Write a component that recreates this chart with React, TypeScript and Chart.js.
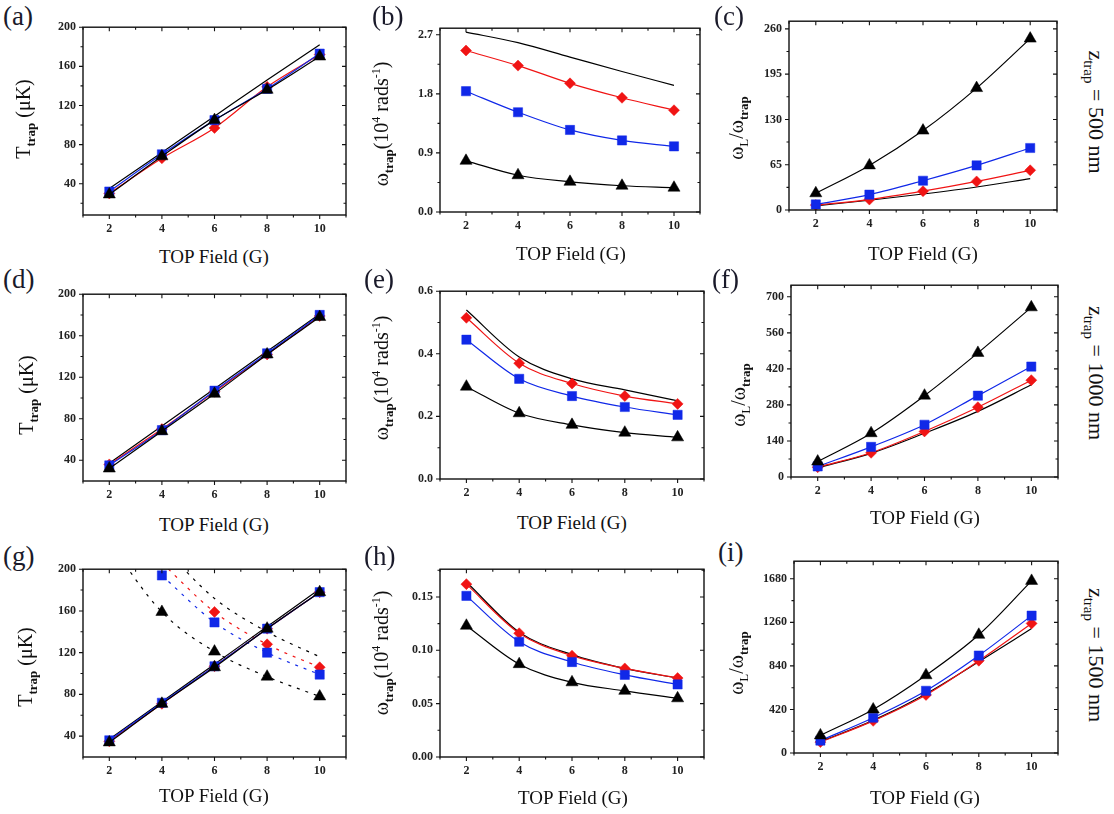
import React, { useEffect, useRef } from 'react';
import { Chart, registerables } from 'chart.js';

Chart.register(...registerables);

// ---------- data ----------
const FIELD = [2, 4, 6, 8, 10];

// (a) T_trap, z = 500 nm
const A_TRI = [29, 68, 105, 136, 170];
const A_SQ = [32, 70, 105, 137, 173];
const A_DIA = [30, 66, 97, 139, 172];
const A_LINE = [35, 72, 109, 146, 182];
// (b) omega_trap, z = 500 nm
const B_TRI = [0.78, 0.56, 0.46, 0.40, 0.37];
const B_SQ = [1.84, 1.52, 1.25, 1.09, 1.0];
const B_DIA = [2.46, 2.23, 1.96, 1.74, 1.55];
const B_LINE = [2.74, 2.58, 2.36, 2.14, 1.93];
// (c) omega_L / omega_trap, z = 500 nm
const C_TRI = [24, 64, 114, 175, 246];
const C_SQ = [8, 22, 42, 64, 89];
const C_DIA = [7, 15, 27, 41, 57];
const C_LINE = [6, 14, 23, 33, 45];
// (d) T_trap, z = 1000 nm
const D_TRI = [32, 68, 104, 142, 178];
const D_SQ = [35, 69, 107, 143, 180];
const D_DIA = [36, 70, 106, 142, 179];
const D_LINE = [37, 73, 109, 145, 181];
// (e) omega_trap, z = 1000 nm
const E_TRI = [0.295, 0.21, 0.173, 0.148, 0.133];
const E_SQ = [0.445, 0.32, 0.265, 0.23, 0.205];
const E_DIA = [0.515, 0.37, 0.305, 0.265, 0.24];
const E_LINE = [0.54, 0.39, 0.32, 0.285, 0.25];
// (f) omega_L / omega_trap, z = 1000 nm
const F_TRI = [60, 170, 316, 482, 659];
const F_SQ = [41, 117, 203, 316, 429];
const F_DIA = [38, 94, 177, 271, 376];
const F_LINE = [36, 92, 170, 255, 358];
// (g) T_trap, z = 1500 nm (solid: rising, dashed: falling)
const G_TRI = [34, 71, 106, 143, 178];
const G_SQ = [36, 72, 107, 143, 178];
const G_DIA = [35, 71, 107, 143, 178];
const G_LINE = [37, 73, 109, 145, 181];
const G_TRI_D = [225, 159, 121, 97, 78];
const G_SQ_D = [null, 194, 149, 120, 99];
const G_DIA_D = [null, 206, 159, 128, 106];
const G_LINE_D = [null, 222, 172, 140, 116];
// (h) omega_trap, z = 1500 nm
const H_TRI = [0.123, 0.087, 0.07, 0.062, 0.055];
const H_SQ = [0.151, 0.108, 0.089, 0.077, 0.068];
const H_DIA = [0.162, 0.116, 0.095, 0.083, 0.074];
const H_LINE = [0.164, 0.117, 0.096, 0.083, 0.074];
// (i) omega_L / omega_trap, z = 1500 nm
const I_TRI = [170, 420, 750, 1140, 1660];
const I_SQ = [120, 340, 600, 940, 1325];
const I_DIA = [105, 310, 560, 890, 1250];
const I_LINE = [110, 315, 570, 880, 1200];

// tick labels
const X_TICKS = [2, 4, 6, 8, 10];
const T_TICKS = [40, 80, 120, 160, 200];
const B_TICKS = [0, 0.9, 1.8, 2.7];
const C_TICKS = [0, 65, 130, 195, 260];
const E_TICKS = [0, 0.2, 0.4, 0.6];
const F_TICKS = [0, 140, 280, 420, 560, 700];
const H_TICKS = [0, 0.05, 0.1, 0.15];
const I_TICKS = [0, 420, 840, 1260, 1680];

// ---------- styling ----------
const SERIF = '"Liberation Serif", "DejaVu Serif", serif';
type Kind = 'tri' | 'sq' | 'dia' | 'line';
const STY: Record<Kind, { color: string; ps: any; r: number }> = {
  tri: { color: '#000000', ps: 'triangle', r: 7 },
  sq: { color: '#1028e8', ps: 'rect', r: 6.5 },
  dia: { color: '#f01414', ps: 'rectRot', r: 5.5 },
  line: { color: '#000000', ps: 'circle', r: 0 },
};

type Series = { data: (number | null)[]; kind: Kind; dashed?: boolean };
type PanelCfg = {
  box: [number, number, number, number]; // L, R, T, B of plot area
  yMin: number;
  yMax: number;
  yTicks: number[];
  dec: number;
  series: Series[];
};

const set4 = (tri: any, sq: any, dia: any, line: any): Series[] => [
  { data: tri, kind: 'tri' },
  { data: sq, kind: 'sq' },
  { data: dia, kind: 'dia' },
  { data: line, kind: 'line' },
];

const PANELS: PanelCfg[] = [
  { box: [83, 346, 21, 215], yMin: 8, yMax: 200, yTicks: T_TICKS, dec: 0, series: set4(A_TRI, A_SQ, A_DIA, A_LINE) },
  { box: [440, 700, 22, 212], yMin: 0, yMax: 2.8, yTicks: B_TICKS, dec: 1, series: set4(B_TRI, B_SQ, B_DIA, B_LINE) },
  { box: [789, 1057, 15, 210], yMin: 0, yMax: 271, yTicks: C_TICKS, dec: 0, series: set4(C_TRI, C_SQ, C_DIA, C_LINE) },
  { box: [83, 346, 288, 481], yMin: 20, yMax: 200, yTicks: T_TICKS, dec: 0, series: set4(D_TRI, D_SQ, D_DIA, D_LINE) },
  { box: [440, 704, 285, 479], yMin: 0, yMax: 0.6, yTicks: E_TICKS, dec: 1, series: set4(E_TRI, E_SQ, E_DIA, E_LINE) },
  { box: [791, 1058, 279, 477], yMin: 0, yMax: 745, yTicks: F_TICKS, dec: 0, series: set4(F_TRI, F_SQ, F_DIA, F_LINE) },
  {
    box: [83, 346, 563, 757], yMin: 20, yMax: 200, yTicks: T_TICKS, dec: 0,
    series: [
      ...set4(G_TRI, G_SQ, G_DIA, G_LINE),
      { data: G_TRI_D, kind: 'tri', dashed: true },
      { data: G_SQ_D, kind: 'sq', dashed: true },
      { data: G_DIA_D, kind: 'dia', dashed: true },
      { data: G_LINE_D, kind: 'line', dashed: true },
    ],
  },
  { box: [440, 704, 563, 757], yMin: 0, yMax: 0.176, yTicks: H_TICKS, dec: 2, series: set4(H_TRI, H_SQ, H_DIA, H_LINE) },
  { box: [794, 1058, 555, 753], yMin: 0, yMax: 1850, yTicks: I_TICKS, dec: 0, series: set4(I_TRI, I_SQ, I_DIA, I_LINE) },
];

const YW = 46;
const XH = 30;
const PT = 8;
const PR = 8;

const framePlugin = {
  id: 'frame',
  afterDatasetsDraw(chart: any, _args: any, opts: any) {
    const { ctx, chartArea, scales } = chart;
    const { left, right, top, bottom } = chartArea;
    const x = scales.x;
    const y = scales.y;
    ctx.save();
    ctx.strokeStyle = '#111';
    ctx.lineWidth = 1.4;
    ctx.strokeRect(left, top, right - left, bottom - top);
    ctx.lineWidth = 1.1;
    const xs: number[] = opts.xMajor;
    const ys: number[] = opts.yMajor;
    const xMinor: number[] = [];
    for (let v = Math.ceil(x.min); v <= x.max; v++) if (!xs.includes(v)) xMinor.push(v);
    const yMinor: number[] = [];
    const step = ys[1] - ys[0];
    for (let i = -1; i < ys.length; i++) {
      const v = ys[0] + step * (i + 0.5);
      if (v > y.min + 1e-9 && v < y.max - 1e-9) yMinor.push(v);
    }
    ctx.beginPath();
    const tick = (vals: number[], len: number) => {
      for (const v of vals) {
        const px = x.getPixelForValue(v);
        ctx.moveTo(px, bottom);
        ctx.lineTo(px, bottom + len);
        ctx.moveTo(px, top);
        ctx.lineTo(px, top + len);
      }
    };
    const ytick = (vals: number[], len: number) => {
      for (const v of vals) {
        const py = y.getPixelForValue(v);
        ctx.moveTo(left, py);
        ctx.lineTo(left - len, py);
        ctx.moveTo(right, py);
        ctx.lineTo(right - len, py);
      }
    };
    tick(xs, 4);
    tick(xMinor, 2.5);
    ytick(ys, 4);
    ytick(yMinor, 2.5);
    ctx.stroke();
    ctx.restore();
  },
};

function Panel({ cfg }: { cfg: PanelCfg }) {
  const ref = useRef<HTMLCanvasElement>(null);
  const [L, R, T, B] = cfg.box;
  const w = R - L + YW + PR;
  const h = B - T + PT + XH;
  useEffect(() => {
    const datasets = cfg.series.map((s) => {
      const st = STY[s.kind];
      return {
        data: FIELD.map((f, i) => ({ x: f, y: s.data[i] })),
        borderColor: st.color,
        backgroundColor: st.color,
        pointStyle: st.ps,
        pointRadius: st.r,
        pointBorderWidth: 0.5,
        pointHoverRadius: st.r,
        borderWidth: 1.2,
        borderDash: s.dashed ? [3, 6] : [],
        cubicInterpolationMode: 'monotone' as const,
        spanGaps: false,
        fill: false,
      };
    });
    const tickFont = { family: SERIF, size: 12, weight: 'bold' as const };
    const chart = new Chart(ref.current!, {
      type: 'line',
      data: { datasets },
      plugins: [framePlugin],
      options: {
        animation: false,
        responsive: false,
        events: [],
        layout: { padding: { left: 0, top: PT, right: PR, bottom: 0 } },
        plugins: {
          legend: { display: false },
          tooltip: { enabled: false },
          frame: { xMajor: X_TICKS, yMajor: cfg.yTicks },
        } as any,
        scales: {
          x: {
            type: 'linear',
            min: 1,
            max: 11,
            grid: { display: false, drawTicks: false },
            border: { display: false },
            ticks: { color: '#222', font: tickFont, padding: 7, maxRotation: 0 },
            afterBuildTicks: (axis: any) => {
              axis.ticks = X_TICKS.map((v) => ({ value: v }));
            },
            afterFit: (axis: any) => {
              axis.height = XH;
            },
          },
          y: {
            type: 'linear',
            min: cfg.yMin,
            max: cfg.yMax,
            grid: { display: false, drawTicks: false },
            border: { display: false },
            ticks: {
              color: '#222',
              font: tickFont,
              padding: 7,
              callback: (v: any) => Number(v).toFixed(cfg.dec),
            },
            afterBuildTicks: (axis: any) => {
              axis.ticks = cfg.yTicks.map((v) => ({ value: v }));
            },
            afterFit: (axis: any) => {
              axis.width = YW;
            },
          },
        },
      },
    });
    return () => chart.destroy();
  }, []);
  return (
    <canvas
      ref={ref}
      width={w}
      height={h}
      style={{ position: 'absolute', left: L - YW, top: T - PT, width: w, height: h }}
    />
  );
}

const LETTERS = [
  { t: '(a)', x: 3, y: 3 },
  { t: '(b)', x: 372, y: 3 },
  { t: '(c)', x: 714, y: 3 },
  { t: '(d)', x: 3, y: 266 },
  { t: '(e)', x: 364, y: 266 },
  { t: '(f)', x: 712, y: 266 },
  { t: '(g)', x: 3, y: 543 },
  { t: '(h)', x: 364, y: 543 },
  { t: '(i)', x: 718, y: 539 },
];

const XTITLE = [
  { x: 214, y: 256 }, { x: 571, y: 253 }, { x: 923, y: 253 },
  { x: 214, y: 524 }, { x: 572, y: 522 }, { x: 925, y: 517 },
  { x: 214, y: 795 }, { x: 573, y: 797 }, { x: 925, y: 797 },
];

const YT_POS = [
  { x: 25, y: 119, k: 0 }, { x: 382, y: 124, k: 1 }, { x: 738, y: 128, k: 2 },
  { x: 28, y: 395, k: 0 }, { x: 382, y: 378, k: 1 }, { x: 740, y: 395, k: 2 },
  { x: 27, y: 667, k: 0 }, { x: 382, y: 653, k: 1 }, { x: 738, y: 663, k: 2 },
];

const Z_LABELS = [
  { v: '500', y: 112 },
  { v: '1000', y: 373 },
  { v: '1500', y: 655 },
];

function YTitle({ k }: { k: number }) {
  const sub = { fontSize: 13, fontWeight: 'bold' as const, verticalAlign: -5 };
  const sup = { fontSize: 12, verticalAlign: 8 };
  if (k === 0)
    return (
      <span>
        T<span style={sub}>trap</span> (μK)
      </span>
    );
  if (k === 1)
    return (
      <span>
        ω<span style={sub}>trap</span>(10<span style={sup}>4</span> rads<span style={sup}>-1</span>)
      </span>
    );
  return (
    <span>
      ω<span style={{ ...sub, fontWeight: 'normal' }}>L</span>/ω<span style={sub}>trap</span>
    </span>
  );
}

export default function App() {
  const rot = (x: number, y: number, deg: number): React.CSSProperties => ({
    position: 'absolute',
    left: x,
    top: y,
    transform: `translate(-50%, -50%) rotate(${deg}deg)`,
    whiteSpace: 'nowrap',
    lineHeight: 1,
  });
  return (
    <div
      style={{
        position: 'absolute',
        left: 0,
        top: 0,
        width: 1114,
        height: 814,
        background: '#ffffff',
        fontFamily: SERIF,
        color: '#111',
        overflow: 'hidden',
      }}
    >
      {PANELS.map((p, i) => (
        <Panel key={i} cfg={p} />
      ))}
      {LETTERS.map((l, i) => (
        <div key={'l' + i} style={{ position: 'absolute', left: l.x, top: l.y, fontSize: 27, lineHeight: 1, color: '#1a1a2a' }}>
          {l.t}
        </div>
      ))}
      {XTITLE.map((p, i) => (
        <div key={'x' + i} style={{ ...rot(p.x, p.y, 0), fontSize: 19 }}>
          TOP Field (G)
        </div>
      ))}
      {YT_POS.map((p, i) => (
        <div key={'y' + i} style={{ ...rot(p.x, p.y, -90), fontSize: 20 }}>
          <YTitle k={p.k} />
        </div>
      ))}
      {Z_LABELS.map((z, i) => (
        <div key={'z' + i} style={{ ...rot(1094, z.y, 90), fontSize: 22 }}>
          z<span style={{ fontSize: 15, verticalAlign: -5 }}>trap</span> = {z.v} nm
        </div>
      ))}
    </div>
  );
}
